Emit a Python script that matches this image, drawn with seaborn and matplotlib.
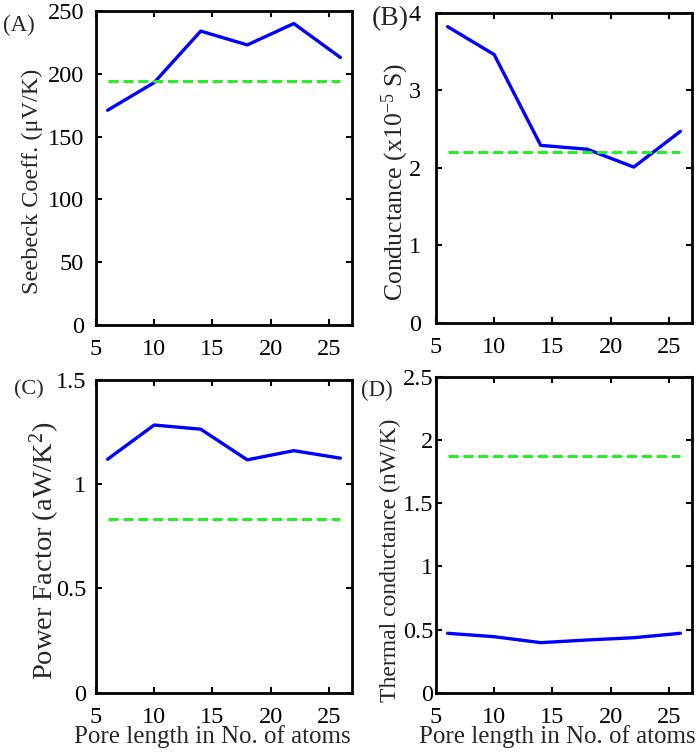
import numpy as np
import pandas as pd
import matplotlib
matplotlib.use("Agg")
import matplotlib.pyplot as plt
import seaborn as sns

sns.set_style("ticks")
plt.rcParams['font.family'] = ['Liberation Serif', 'DejaVu Serif']
plt.rcParams['mathtext.fontset'] = 'custom'
plt.rcParams['mathtext.rm'] = 'Liberation Serif'
plt.rcParams['mathtext.it'] = 'Liberation Serif:italic'

pore_length = [6, 10, 14, 18, 22, 26]
seebeck = [171, 193, 234, 223, 240, 213]
seebeck_ref = 194
conductance = [3.82, 3.46, 2.29, 2.24, 2.01, 2.47]
conductance_ref = 2.2
power_factor = [1.12, 1.284, 1.264, 1.117, 1.161, 1.125]
power_factor_ref = 0.835
thermal = [0.47, 0.443, 0.396, 0.417, 0.435, 0.47]
thermal_ref = 1.87

panels = [
    dict(y=seebeck, ref=seebeck_ref, ylim=(0, 250), yticks=[0, 50, 100, 150, 200, 250],
         yticklabels=['0', '50', '100', '150', '200', '250'],
         ylabel='Seebeck Coeff. (\u03bcV/K)', tag='(A)', tagpos=(3, 25), tagsize=16.5,
         rect=[96, 11, 352, 325], ylsize=17.5, ylc=(32, 181), ypad=8.5, xlabel=None),
    dict(y=conductance, ref=conductance_ref, ylim=(0, 4), yticks=[0, 1, 2, 3, 4],
         yticklabels=['0', '1', '2', '3', '4'],
         ylabel='Conductance (x10$^{-5}$ S)', tag='(B)', tagpos=(372, 19), tagsize=20,
         rect=[436, 12.7, 692, 323], ylsize=18.5, ylc=(395, 182), ypad=11, xlabel=None),
    dict(y=power_factor, ref=power_factor_ref, ylim=(0, 1.5), yticks=[0, 0.5, 1, 1.5],
         yticklabels=['0', '0.5', '1', '1.5'],
         ylabel='Power Factor (aW/K$^{2}$)', tag='(C)', tagpos=(14, 390), tagsize=16,
         rect=[96, 380, 352, 692.7], ylsize=20.5, ylc=(45, 551), ypad=7,
         xlabel='Pore length in No. of atoms', xlc=(212, 737)),
    dict(y=thermal, ref=thermal_ref, ylim=(0, 2.5), yticks=[0, 0.5, 1, 1.5, 2, 2.5],
         yticklabels=['0', '0.5', '1', '1.5', '2', '2.5'],
         ylabel='Thermal conductance (nW/K)', tag='(D)', tagpos=(361, 390), tagsize=16.5,
         rect=[436, 376.7, 692, 692.7], ylsize=17, ylc=(390, 560), ypad=2,
         xlabel='Pore length in No. of atoms', xlc=(557, 737)),
]

W, H = 700, 752
fig = plt.figure(figsize=(7, 7.52), dpi=100)

for p in panels:
    l, t, r, b = p['rect']
    ax = fig.add_axes([l / W, 1 - b / H, (r - l) / W, (b - t) / H])
    df = pd.DataFrame({'x': pore_length, 'y': p['y']})
    sns.lineplot(data=df, x='x', y='y', ax=ax, color='#0000ff', linewidth=2.4)
    dref = pd.DataFrame({'x': [pore_length[0], pore_length[-1]], 'y': [p['ref']] * 2})
    sns.lineplot(data=dref, x='x', y='y', ax=ax, color='#22ee22', linewidth=2.1,
                 linestyle=(0, (3.5, 1.6)))
    ax.set_xlim(5, 27)
    ax.set_ylim(*p['ylim'])
    ax.set_xticks([5, 10, 15, 20, 25])
    ax.set_xticklabels(['5', '10', '15', '20', '25'])
    ax.set_yticks(p['yticks'])
    ax.set_yticklabels(p['yticklabels'])
    ax.tick_params(direction='in', length=4, width=1.5, top=True, right=True,
                   labelsize=17.5, colors='black')
    ax.tick_params(axis='x', pad=10)
    ax.tick_params(axis='y', pad=p['ypad'])
    for s in ax.spines.values():
        s.set_linewidth(2.0)
        s.set_color('black')
        s.set_visible(True)
    ax.set_ylabel(p['ylabel'], fontsize=p['ylsize'], va='center', ha='center')
    lx, ly = p['ylc']
    ax.yaxis.set_label_coords((lx - l) / (r - l), (b - ly) / (b - t))
    if p['xlabel']:
        ax.set_xlabel(p['xlabel'], fontsize=18, va='center', ha='center')
        xx, xy = p['xlc']
        ax.xaxis.set_label_coords((xx - l) / (r - l), (b - xy) / (b - t))
    else:
        ax.set_xlabel('')
    tx, ty = p['tagpos']
    fig.text(tx / W, 1 - ty / H, p['tag'], fontsize=p['tagsize'], ha='left', va='center')

fig.savefig('out.png', dpi=100)
